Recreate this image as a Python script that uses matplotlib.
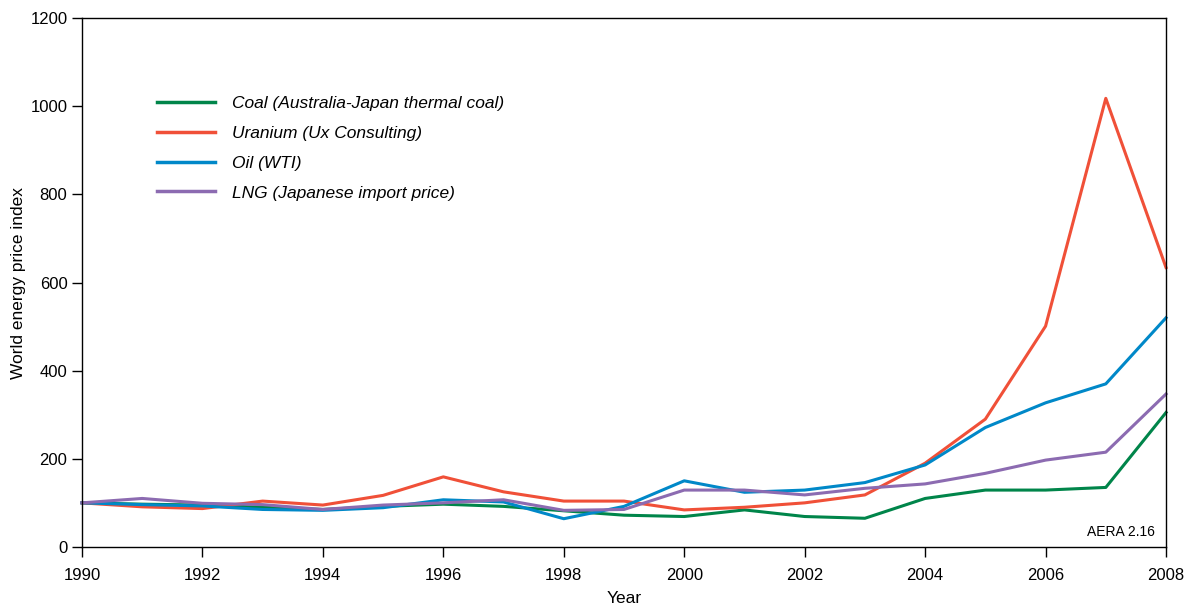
import matplotlib
matplotlib.use("Agg")
import matplotlib.pyplot as plt

plt.rcParams['font.family'] = ['Liberation Sans', 'DejaVu Sans']

years = list(range(1990, 2009))
coal = [100, 97, 95, 90, 85, 92, 97, 92, 82, 72, 69, 84, 69, 65, 110, 129, 129, 135, 305]
uranium = [100, 91, 87, 104, 95, 117, 159, 125, 104, 104, 84, 90, 100, 118, 190, 290, 501, 1018, 634]
oil = [100, 96, 93, 85, 83, 89, 107, 102, 64, 92, 150, 124, 129, 146, 186, 271, 327, 370, 520]
lng = [100, 110, 99, 96, 85, 95, 100, 107, 83, 85, 129, 129, 118, 133, 143, 167, 197, 215, 347]

labels = ["Coal (Australia-Japan thermal coal)", "Uranium (Ux Consulting)",
          "Oil (WTI)", "LNG (Japanese import price)"]
colors = ["#00854a", "#f05038", "#0088c8", "#8c6bb1"]

fig = plt.figure(figsize=(11.88, 6.05), dpi=100)
ax = fig.add_axes([0.069, 0.096, 0.9125, 0.874])

# draw in order so uranium/oil/lng sit over coal
for series, lab, c in zip([coal, uranium, oil, lng], labels, colors):
    ax.plot(years, series, color=c, lw=2.2, label=lab, clip_on=False)

ax.set_xlim(1990, 2008)
ax.set_ylim(0, 1200)
ax.set_xticks(range(1990, 2009, 2))
ax.set_yticks(range(0, 1201, 200))
ax.tick_params(direction='out', length=7, width=1, labelsize=12)
ax.tick_params(axis='x', pad=8)
for s in ax.spines.values():
    s.set_linewidth(1)

ax.set_xlabel("Year", fontsize=12.5, labelpad=6)
ax.set_ylabel("World energy price index", fontsize=12.5, labelpad=3)

leg = ax.legend(loc='upper left', bbox_to_anchor=(0.055, 0.882), frameon=False,
                handlelength=3.3, handletextpad=1.0, labelspacing=0.84,
                prop={'style': 'italic', 'size': 12.5})
for h in leg.get_lines():
    h.set_linewidth(2.5)

ax.text(0.99, 0.015, "AERA 2.16", transform=ax.transAxes, ha='right', va='bottom', fontsize=10)

fig.savefig("out.png", dpi=100)
